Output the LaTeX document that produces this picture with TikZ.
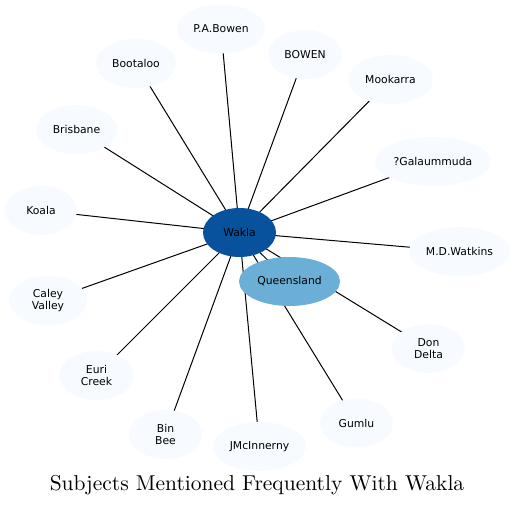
\documentclass[tikz,border=0pt]{standalone}
\usepackage{fontspec}
\newfontfamily\titlefont{lmroman10-regular}[Extension=.otf]
\newfontfamily\labelfont{DejaVu Sans}
\usepackage{tikz}
\usetikzlibrary{shapes.geometric,backgrounds}
\definecolor{paleblue}{HTML}{F7FBFF}
\definecolor{darkblue}{HTML}{08519C}
\definecolor{midblue}{HTML}{6BAED6}

\begin{document}
\begin{tikzpicture}[x=1pt,y=-1pt,
  subject/.style={ellipse,fill=paleblue,inner sep=0pt,minimum height=49pt,align=center,
    font=\labelfont\fontsize{10.8}{12}\selectfont},
  link/.style={black,line width=1pt}]
\useasboundingbox (0,0) rectangle (515,507);
\node[subject,fill=darkblue,minimum width=73pt] (wakla) at (239.5,232.5) {Wakla};
\node[subject,fill=midblue,minimum width=101pt] (queensland) at (289.5,281.5) {Queensland};
\node[subject,minimum width=88pt] (pabowen) at (221,29) {P.A.Bowen};
\node[subject,minimum width=74pt] (bowen) at (305,54.5) {BOWEN};
\node[subject,minimum width=80pt] (bootaloo) at (136,63.5) {Bootaloo};
\node[subject,minimum width=85pt] (mookarra) at (390.5,79.5) {Mookarra};
\node[subject,minimum width=81pt] (brisbane) at (76.5,129.5) {Brisbane};
\node[subject,minimum width=116pt] (galaummuda) at (433,161.5) {?Galaummuda};
\node[subject,minimum width=72pt] (koala) at (41,210.5) {Koala};
\node[subject,minimum width=101pt] (mdwatkins) at (459.5,251.5) {M.D.Watkins};
\node[subject,minimum width=78pt] (caleyvalley) at (48,300.5) {Caley\\Valley};
\node[subject,minimum width=73pt] (dondelta) at (428.5,348.5) {Don\\Delta};
\node[subject,minimum width=75pt] (euricreek) at (96.5,375.5) {Euri\\Creek};
\node[subject,minimum width=73pt] (binbee) at (165.5,434.5) {Bin\\Bee};
\node[subject,minimum width=93pt] (jmcinnerny) at (259.5,446.5) {JMcInnerny};
\node[subject,minimum width=73pt] (gumlu) at (356.5,423) {Gumlu};
\node[font=\titlefont\fontsize{21.5}{26}\selectfont] (title) at (257,485.5) {Subjects Mentioned Frequently With Wakla};
\begin{scope}[on background layer]
\foreach \other in {queensland,pabowen,bowen,bootaloo,mookarra,brisbane,galaummuda,koala,
  mdwatkins,caleyvalley,dondelta,euricreek,binbee,jmcinnerny,gumlu}
  \draw[link] (wakla.center) -- (\other.center);
\end{scope}
\end{tikzpicture}
\end{document}
